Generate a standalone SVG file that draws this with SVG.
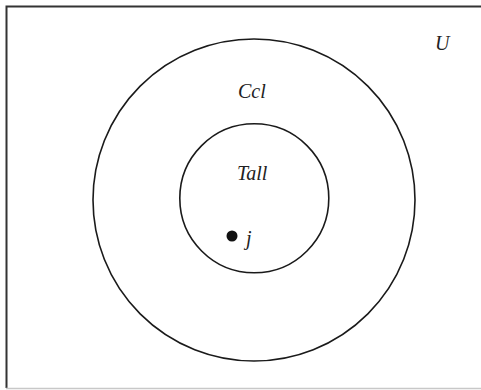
<svg xmlns="http://www.w3.org/2000/svg" width="481" height="390" viewBox="0 0 481 390">
<style>
.set{fill:none;stroke:#1a1a1a;stroke-width:1.6}
.lbl{font-family:'Liberation Serif','DejaVu Serif',serif;font-style:italic;font-size:20px;fill:#222}
</style>
<rect width="481" height="390" fill="#fff"/>
<g id="universe">
<path d="M481,6.5 H6.5 V388" fill="none" stroke="#333" stroke-width="2"/>
<line x1="6" y1="388.5" x2="481" y2="388.5" stroke="#c8c8c8" stroke-width="1.5"/>
<text class="lbl" x="435" y="50">U</text>
</g>
<g id="ccl">
<circle class="set" cx="254" cy="200" r="161"/>
<text class="lbl" x="238" y="98">Ccl</text>
</g>
<g id="tall">
<circle class="set" cx="254.3" cy="198.3" r="74.5"/>
<text class="lbl" x="237" y="180">Tall</text>
</g>
<g id="j">
<circle cx="232" cy="236" r="5.5" fill="#111"/>
<text class="lbl" x="246" y="245">j</text>
</g>
<g id="connectors"/>
</svg>
